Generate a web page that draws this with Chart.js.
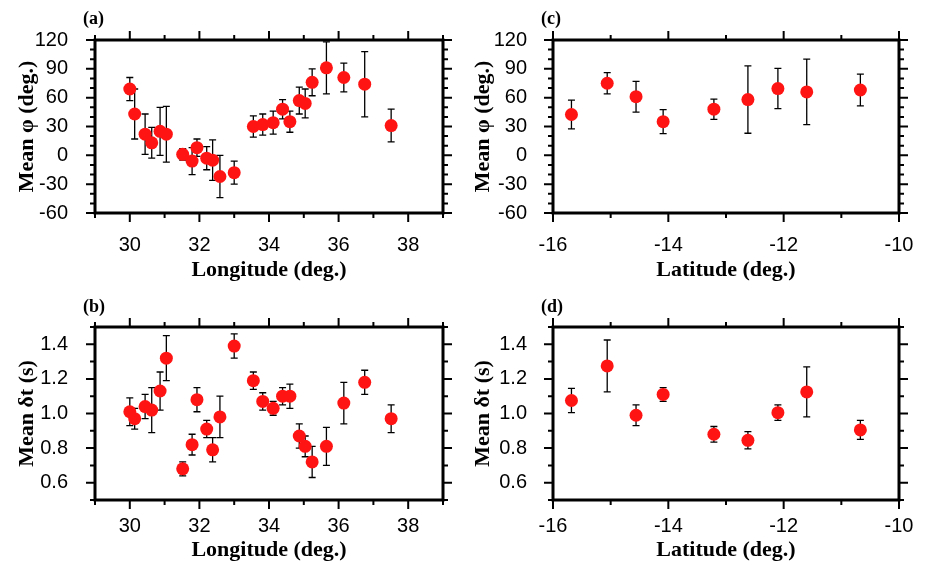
<!DOCTYPE html>
<html>
<head>
<meta charset="utf-8">
<title>Mean phi and delay time against longitude and latitude</title>
<script src="https://cdn.jsdelivr.net/npm/chart.js@4.4.1/dist/chart.umd.min.js"></script>
<style>
    html, body { margin: 0; padding: 0; background: #fff; }
    #wrap { position: relative; width: 926px; height: 565px; overflow: hidden; }
    #wrap canvas { position: absolute; }
</style>
</head>
<body>
<div id="wrap">
    <canvas id="chart-a" width="463" height="282" style="left:0;top:0"></canvas>
    <canvas id="chart-c" width="463" height="282" style="left:463px;top:0"></canvas>
    <canvas id="chart-b" width="463" height="283" style="left:0;top:282px"></canvas>
    <canvas id="chart-d" width="463" height="283" style="left:463px;top:282px"></canvas>
</div>
<script>
    "use strict";

    // Station longitudes (panels a, b) and latitudes (panels c, d)
    var longitudes = [30.0, 30.14, 30.44, 30.63, 30.87, 31.05, 31.52, 31.79, 31.93, 32.21, 32.38, 32.59, 33.0,
                      33.55, 33.82, 34.12, 34.39, 34.6, 34.87, 35.04, 35.24, 35.65, 36.15, 36.75, 37.51];
    var latitudes = [-15.68, -15.06, -14.56, -14.09, -13.21, -12.62, -12.1, -11.6, -10.67];

    // Mean fast direction (deg.) and its error
    var phiLon = [69, 43, 22, 13, 25, 22, 1, -6, 8, -3, -5, -22, -18, 30, 32, 34, 48, 35, 57, 54, 76, 91, 81, 74, 31];
    var phiLonErr = [12, 26, 21, 16, 25, 29, 6, 14, 9, 12, 21, 22, 12, 11, 11, 12, 10, 11, 14, 15, 14, 27, 15, 34, 17];
    var phiLat = [42.5, 75, 61, 35, 48, 58, 69.5, 66, 68];
    var phiLatErr = [15, 11, 16, 12.5, 10.5, 35, 21, 34, 16.5];

    // Mean delay time (s) and its error
    var dtLon = [1.01, 0.97, 1.04, 1.02, 1.13, 1.32, 0.68, 0.82, 1.08, 0.91, 0.79, 0.98, 1.39,
                 1.19, 1.07, 1.03, 1.10, 1.10, 0.87, 0.81, 0.72, 0.81, 1.06, 1.18, 0.97];
    var dtLonErr = [0.08, 0.06, 0.07, 0.13, 0.11, 0.13, 0.04, 0.06, 0.07, 0.05, 0.07, 0.12, 0.07,
                    0.05, 0.05, 0.04, 0.05, 0.07, 0.07, 0.06, 0.09, 0.11, 0.12, 0.07, 0.08];
    var dtLat = [1.075, 1.275, 0.99, 1.11, 0.88, 0.845, 1.005, 1.125, 0.905];
    var dtLatErr = [0.07, 0.15, 0.06, 0.04, 0.045, 0.05, 0.045, 0.145, 0.055];

    // Labelled (major) ticks
    var lonTicks = [30, 32, 34, 36, 38];
    var latTicks = [-16, -14, -12, -10];
    var phiTicks = [-60, -30, 0, 30, 60, 90, 120];
    var dtTicks = [0.6, 0.8, 1.0, 1.2, 1.4];

    var tickFont = { family: '"Liberation Sans", Arial, sans-serif', size: 20 };
    var titleFont = { family: '"Liberation Serif", "Times New Roman", serif', size: 22, weight: 'bold', lineHeight: 1 };

    function isMajor(v, list) {
        return list.some(function (t) { return Math.abs(t - v) < 1e-6; });
    }

    // Error bars, drawn under the markers
    var errorBars = {
        id: 'errorBars',
        beforeDatasetsDraw: function (chart) {
            var ctx = chart.ctx, sx = chart.scales.x, sy = chart.scales.y;
            var ds = chart.data.datasets[0];
            ctx.save();
            ctx.strokeStyle = '#000';
            ctx.lineWidth = 1.3;
            ctx.beginPath();
            ds.data.forEach(function (p, i) {
                var px = sx.getPixelForValue(p.x);
                var top = sy.getPixelForValue(p.y + ds.errors[i]);
                var bot = sy.getPixelForValue(p.y - ds.errors[i]);
                ctx.moveTo(px, top); ctx.lineTo(px, bot);
                ctx.moveTo(px - 3.5, top); ctx.lineTo(px + 3.5, top);
                ctx.moveTo(px - 3.5, bot); ctx.lineTo(px + 3.5, bot);
            });
            ctx.stroke();
            ctx.restore();
        }
    };

    // Thick box, ticks on all four sides and the panel letter
    function frame(o) {
        return {
            id: 'frame',
            afterDraw: function (chart) {
                var ctx = chart.ctx, a = chart.chartArea;
                var sx = chart.scales.x, sy = chart.scales.y;
                ctx.save();
                ctx.strokeStyle = '#000';
                ctx.lineWidth = 2;
                ctx.beginPath();
                sx.ticks.forEach(function (t) {
                    var px = sx.getPixelForValue(t.value);
                    var len = isMajor(t.value, o.xTicks) ? 9 : 5;
                    ctx.moveTo(px, a.bottom); ctx.lineTo(px, a.bottom + len);
                    ctx.moveTo(px, a.top); ctx.lineTo(px, a.top - len);
                });
                sy.ticks.forEach(function (t) {
                    var py = sy.getPixelForValue(t.value);
                    var len = isMajor(t.value, o.yTicks) ? 9 : 5;
                    ctx.moveTo(a.left, py); ctx.lineTo(a.left - len, py);
                    ctx.moveTo(a.right, py); ctx.lineTo(a.right + len, py);
                });
                ctx.stroke();
                ctx.lineWidth = 3;
                ctx.strokeRect(a.left, a.top, a.right - a.left, a.bottom - a.top);
                ctx.fillStyle = '#000';
                ctx.font = 'bold 18px "Liberation Serif", serif';
                ctx.fillText(o.panel, o.panelX, o.panelY);
                ctx.restore();
            }
        };
    }

    function makeChart(id, xs, ys, errs, o) {
        var pts = xs.map(function (x, i) { return { x: x, y: ys[i] }; });
        return new Chart(document.getElementById(id).getContext('2d'), {
            type: 'scatter',
            data: {
                datasets: [{
                    data: pts,
                    errors: errs,
                    pointRadius: 6.5,
                    pointHoverRadius: 6.5,
                    backgroundColor: '#ff1414',
                    borderWidth: 0
                }]
            },
            options: {
                responsive: false,
                animation: false,
                devicePixelRatio: 1,
                layout: { padding: o.pad },
                plugins: {
                    legend: { display: false },
                    tooltip: { enabled: false }
                },
                scales: {
                    x: {
                        type: 'linear',
                        min: o.xMin,
                        max: o.xMax,
                        grid: { display: false },
                        border: { display: false },
                        afterFit: function (s) { s.height = o.xh; },
                        ticks: {
                            stepSize: 1,
                            autoSkip: false,
                            maxRotation: 0,
                            padding: o.xPad,
                            font: tickFont,
                            color: '#000',
                            callback: function (v) { return isMajor(v, o.xTicks) ? String(Math.round(v)) : ''; }
                        },
                        title: { display: true, text: o.xTitle, font: titleFont, color: '#000', padding: { top: 0, bottom: o.xtPad } }
                    },
                    y: {
                        type: 'linear',
                        min: o.yMin,
                        max: o.yMax,
                        grid: { display: false },
                        border: { display: false },
                        afterFit: function (s) { s.width = o.yw; },
                        ticks: {
                            stepSize: o.yStep,
                            autoSkip: false,
                            padding: o.yPad,
                            font: tickFont,
                            color: '#000',
                            callback: function (v) { return isMajor(v, o.yTicks) ? o.fmt(v) : ''; }
                        },
                        title: { display: true, text: o.yTitle, font: titleFont, color: '#000', padding: { top: o.ytPad, bottom: 0 } }
                    }
                }
            },
            plugins: [errorBars, frame(o)]
        });
    }

    var fmtInt = function (v) { return String(Math.round(v)); };
    var fmtDec = function (v) { return v.toFixed(1); };

    // Panel (a)
    makeChart('chart-a', longitudes, phiLon, phiLonErr, {
        pad: { left: 0, right: 20, top: 40, bottom: 0 }, yw: 95, xh: 69, xPad: 12, yPad: 19, ytPad: 16, xtPad: 1,
        xMin: 29, xMax: 39, xTicks: lonTicks, xTitle: 'Longitude (deg.)',
        yMin: -60, yMax: 120, yStep: 10, yTicks: phiTicks, yTitle: 'Mean φ (deg.)', fmt: fmtInt,
        panel: '(a)', panelX: 83, panelY: 24
    });

    // Panel (c)
    makeChart('chart-c', latitudes, phiLat, phiLatErr, {
        pad: { left: 0, right: 27, top: 40, bottom: 0 }, yw: 90, xh: 69, xPad: 12, yPad: 18, ytPad: 9, xtPad: 1,
        xMin: -16, xMax: -10, xTicks: latTicks, xTitle: 'Latitude (deg.)',
        yMin: -60, yMax: 120, yStep: 10, yTicks: phiTicks, yTitle: 'Mean φ (deg.)', fmt: fmtInt,
        panel: '(c)', panelX: 78, panelY: 24
    });

    // Panel (b)
    makeChart('chart-b', longitudes, dtLon, dtLonErr, {
        pad: { left: 0, right: 20, top: 45, bottom: 0 }, yw: 95, xh: 65, xPad: 6, yPad: 19, ytPad: 16, xtPad: 4,
        xMin: 29, xMax: 39, xTicks: lonTicks, xTitle: 'Longitude (deg.)',
        yMin: 0.5, yMax: 1.5, yStep: 0.1, yTicks: dtTicks, yTitle: 'Mean δt (s)', fmt: fmtDec,
        panel: '(b)', panelX: 83, panelY: 30
    });

    // Panel (d)
    makeChart('chart-d', latitudes, dtLat, dtLatErr, {
        pad: { left: 0, right: 27, top: 45, bottom: 0 }, yw: 90, xh: 65, xPad: 6, yPad: 18, ytPad: 9, xtPad: 4,
        xMin: -16, xMax: -10, xTicks: latTicks, xTitle: 'Latitude (deg.)',
        yMin: 0.5, yMax: 1.5, yStep: 0.1, yTicks: dtTicks, yTitle: 'Mean δt (s)', fmt: fmtDec,
        panel: '(d)', panelX: 78, panelY: 30
    });
</script>
</body>
</html>
